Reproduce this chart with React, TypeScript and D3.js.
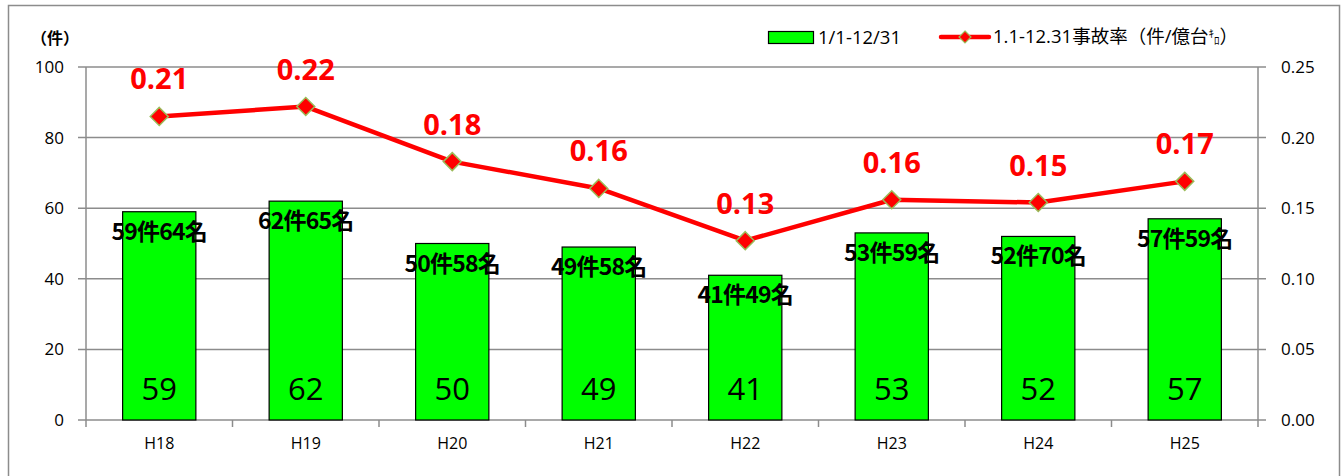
import * as d3 from "d3";

const years = ["H18", "H19", "H20", "H21", "H22", "H23", "H24", "H25"];
const counts = [59, 62, 50, 49, 41, 53, 52, 57];
const persons = [64, 65, 58, 58, 49, 59, 70, 59];
const rates = [0.215, 0.222, 0.183, 0.164, 0.127, 0.156, 0.154, 0.169];
const rateLabels = ["0.21", "0.22", "0.18", "0.16", "0.13", "0.16", "0.15", "0.17"];
const leftTicks = [0, 20, 40, 60, 80, 100];
const rightTicks = [0, 0.05, 0.1, 0.15, 0.2, 0.25];

const W = 1344;
const H = 476;
const left = 86;
const right = 1258;
const top = 67;
const bottom = 420;

const jp = "'Noto Sans CJK JP', 'Noto Sans', sans-serif";
const latin = "'Open Sans', 'Noto Sans', sans-serif";
const mixed = "'Open Sans', 'Noto Sans CJK JP', sans-serif";

export default function App() {
  const x = d3.scaleBand().domain(years).range([left, right]).paddingInner(0).paddingOuter(0);
  const y = d3.scaleLinear().domain([0, 100]).range([bottom, top]);
  const y2 = d3.scaleLinear().domain([0, 0.25]).range([bottom, top]);
  const barW = x.bandwidth() / 2;
  const cx = (d: string) => (x(d) ?? 0) + x.bandwidth() / 2;

  const line = d3
    .line<number>()
    .x((_, i) => cx(years[i]))
    .y((d) => y2(d));

  return (
    <svg width={W} height={H} style={{ position: "absolute", left: 0, top: 0, background: "#fff" }}>
      <rect x={8.5} y={5.5} width={1331} height={490} fill="none" stroke="#8c8c8c" strokeWidth={1.5} />

      {/* gridlines */}
      {leftTicks.map((t) => (
        <line key={t} x1={left - 8} x2={right + 8} y1={y(t)} y2={y(t)} stroke="#8c8c8c" strokeWidth={1.5} />
      ))}
      <line x1={left} x2={left} y1={top} y2={bottom} stroke="#8c8c8c" strokeWidth={1.5} />
      <line x1={right} x2={right} y1={top} y2={bottom} stroke="#8c8c8c" strokeWidth={1.5} />
      {d3.range(years.length + 1).map((i) => {
        const xx = left + i * x.bandwidth();
        return <line key={i} x1={xx} x2={xx} y1={bottom} y2={bottom + 7} stroke="#8c8c8c" strokeWidth={1.5} />;
      })}

      {leftTicks.map((t) => (
        <text key={t} x={64} y={y(t) + 6} textAnchor="end" fontFamily={latin} fontSize={17} fill="#000">
          {t}
        </text>
      ))}
      {rightTicks.map((t) => (
        <text key={t} x={1281} y={y2(t) + 6} fontFamily={latin} fontSize={17} fill="#000">
          {t.toFixed(2)}
        </text>
      ))}
      {years.map((d) => (
        <text key={d} x={cx(d)} y={449} textAnchor="middle" fontFamily={latin} fontSize={16} fill="#000">
          {d}
        </text>
      ))}
      <text x={31} y={44} fontFamily={jp} fontWeight="bold" fontSize={16} fill="#000">
        （件）
      </text>

      {/* bars */}
      {years.map((d, i) => (
        <rect
          key={d}
          x={cx(d) - barW / 2}
          y={y(counts[i])}
          width={barW}
          height={bottom - y(counts[i])}
          fill="#00ff00"
          stroke="#000"
          strokeWidth={1.2}
        />
      ))}
      {years.map((d, i) => (
        <text key={d} x={cx(d)} y={400} textAnchor="middle" fontFamily={latin} fontSize={31} fill="#000">
          {counts[i]}
        </text>
      ))}
      {years.map((d, i) => (
        <text
          key={d}
          x={cx(d)}
          y={y(counts[i]) + 28}
          textAnchor="middle"
          fontFamily={jp}
          fontWeight="bold"
          fontSize={23}
          letterSpacing={-0.8}
          fill="#000"
        >
          {`${counts[i]}件${persons[i]}名`}
        </text>
      ))}

      {/* rate line */}
      <path d={line(rates) ?? ""} fill="none" stroke="#ff0000" strokeWidth={4.5} strokeLinejoin="round" />
      {years.map((d, i) => {
        const px = cx(d);
        const py = y2(rates[i]);
        const s = 9;
        return (
          <path
            key={d}
            d={`M${px},${py - s}L${px + s},${py}L${px},${py + s}L${px - s},${py}Z`}
            fill="#ff0000"
            stroke="#9bbb59"
            strokeWidth={1.5}
          />
        );
      })}
      {years.map((d, i) => (
        <text
          key={d}
          x={cx(d)}
          y={y2(rates[i]) - 27}
          textAnchor="middle"
          fontFamily={latin}
          fontWeight="bold"
          fontSize={29}
          fill="#ff0000"
        >
          {rateLabels[i]}
        </text>
      ))}

      {/* legend */}
      <rect x={768.5} y={31.5} width={45} height={12} fill="#00ff00" stroke="#000" strokeWidth={1.2} />
      <text x={818} y={44} fontFamily={latin} fontSize={18.5} fill="#000">
        1/1-12/31
      </text>
      <line x1={941} x2={989} y1={37} y2={37} stroke="#ff0000" strokeWidth={4.5} strokeLinecap="round" />
      <path d="M965,31L971,37L965,43L959,37Z" fill="#ff0000" stroke="#9bbb59" strokeWidth={1.2} />
      <text x={993} y={43} fontFamily={mixed} fontSize={18.5} fill="#000">
        1.1-12.31事故率（件/億台
        <tspan fontSize={11} dy={-5}>ｷ</tspan>
        <tspan fontSize={11} dy={7}>ﾛ</tspan>
        <tspan dy={-2}>）</tspan>
      </text>
    </svg>
  );
}
